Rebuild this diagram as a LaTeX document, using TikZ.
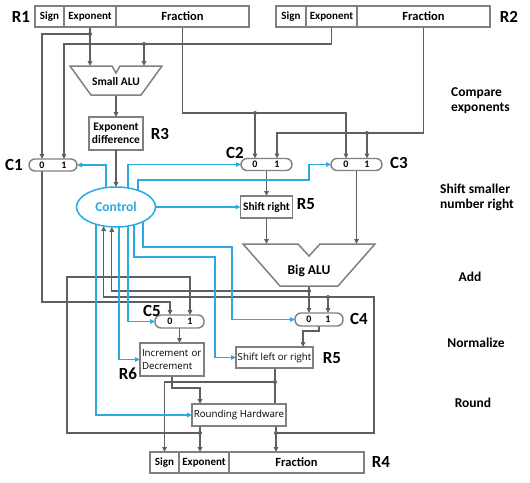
\documentclass[tikz,border=0pt]{standalone}
\usepackage{fontspec}
\setmainfont{Carlito}
\newfontfamily\thinfont{Open Sans}
\usetikzlibrary{arrows.meta,calc,backgrounds,shapes.geometric}
\definecolor{linec}{RGB}{95,95,95}
\definecolor{boxc}{RGB}{128,128,128}
\definecolor{ctlblue}{RGB}{41,171,226}
\begin{document}
\begin{tikzpicture}[x=1pt,y=-1pt,
  ln/.style={draw=linec,line width=1.3pt},
  arr/.style={ln,-{Triangle[length=5pt,width=4.5pt]}},
  bln/.style={draw=ctlblue,line width=1.3pt,-{Triangle[length=5pt,width=4.5pt]}},
  fld/.style={draw=boxc,line width=1.5pt,fill=white,minimum height=21pt,inner sep=0pt,outer sep=0pt,font=\bfseries\fontsize{11pt}{12pt}\selectfont},
  fldbig/.style={fld,font=\bfseries\fontsize{12.5pt}{14pt}\selectfont},
  boxn/.style={draw=boxc,line width=1.5pt,fill=white,inner sep=0pt,outer sep=0pt,font=\bfseries\fontsize{11.5pt}{13pt}\selectfont,align=center},
  thinbox/.style={boxn,font=\thinfont\fontsize{9.7pt}{12.5pt}\selectfont},
  pill/.style={draw=boxc,line width=1.4pt,fill=white,rounded corners=6pt,minimum height=12pt,inner sep=0pt,outer sep=0pt},
  dig/.style={font=\bfseries\fontsize{10pt}{11pt}\selectfont,inner sep=0pt},
  lbl/.style={font=\bfseries\fontsize{17pt}{18pt}\selectfont,inner sep=0pt},
  stage/.style={font=\bfseries\fontsize{13.5pt}{15.5pt}\selectfont,align=left,inner sep=0pt},
  dot/.style={fill=linec}]
\useasboundingbox (0,0) rectangle (530,482);

% ---------- registers ----------
\node[fld,minimum width=29pt] (r1s) at (49.5,16.5) {Sign};
\node[fld,minimum width=52pt] (r1e) at (90,16.5) {Exponent};
\node[fldbig,minimum width=133pt] (r1f) at (182.5,16.5) {Fraction};
\node[fld,minimum width=30pt] (r2s) at (291,16.5) {Sign};
\node[fld,minimum width=51pt] (r2e) at (331.5,16.5) {Exponent};
\node[fldbig,minimum width=133pt] (r2f) at (423.5,16.5) {Fraction};
\node[fld,minimum width=29pt] (r4s) at (164.5,462.5) {Sign};
\node[fld,minimum width=50pt] (r4e) at (204,462.5) {Exponent};
\node[fldbig,minimum width=135pt] (r4f) at (296.5,462.5) {Fraction};

% ---------- ALUs ----------
\draw[draw=boxc,line width=1.5pt,fill=white] (70,66) -- (112,66) -- (116,73) -- (120,66) -- (162,66) -- (141,95) -- (91,95) -- cycle;
\node[font=\bfseries\fontsize{11.5pt}{12pt}\selectfont,inner sep=0pt] (salu) at (116,82) {Small ALU};
\coordinate (salul) at (90,66);
\coordinate (salur) at (144,66);
\coordinate (saluo) at (116,95);
\draw[draw=boxc,line width=1.5pt,fill=white] (243,244) -- (298,244) -- (309,256) -- (320,244) -- (375,244) -- (338,286) -- (280,286) -- cycle;
\node[font=\bfseries\fontsize{13.5pt}{14pt}\selectfont,inner sep=0pt] (balu) at (309,271) {Big ALU};
\coordinate (balul) at (266.5,244);
\coordinate (balur) at (356.5,244);
\coordinate (baluo) at (309,286);

% ---------- boxes ----------
\node[boxn,minimum width=54pt,minimum height=33pt] (r3) at (116,133.5) {Exponent\\difference};
\node[boxn,minimum width=52pt,minimum height=22pt,font=\bfseries\fontsize{11.5pt}{12pt}\selectfont] (sr) at (266.5,207) {Shift right};
\node[thinbox,minimum width=64pt,minimum height=33pt,text width=60pt,align=left,inner sep=2pt] (inc) at (172,359.5) {Increment or\\Decrement};
\node[thinbox,minimum width=77pt,minimum height=21pt] (slr) at (274.5,357.5) {Shift left or right};
\node[thinbox,minimum width=94pt,minimum height=22pt] (rh) at (239,415) {Rounding Hardware};

% ---------- multiplexers ----------
\node[pill,minimum width=48pt] (c1) at (53,165) {};
\node[dig] (c1z) at (42,165) {0};
\node[dig] (c1o) at (64,165) {1};
\node[pill,minimum width=51pt] (c2) at (266.5,164.5) {};
\node[dig] (c2z) at (255,164.5) {0};
\node[dig] (c2o) at (277,164.5) {1};
\node[pill,minimum width=51pt] (c3) at (356.5,164.5) {};
\node[dig] (c3z) at (346,164.5) {0};
\node[dig] (c3o) at (367,164.5) {1};
\node[pill,minimum width=48pt,minimum height=13pt] (c4) at (319,319.5) {};
\node[dig] (c4z) at (309,319.5) {0};
\node[dig] (c4o) at (328,319.5) {1};
\node[pill,minimum width=49pt,minimum height=13pt] (c5) at (179.5,321.5) {};
\node[dig] (c5z) at (170,321.5) {0};
\node[dig] (c5o) at (190,321.5) {1};

% ---------- control ----------
\node[ellipse,draw=ctlblue,line width=1.5pt,fill=white,minimum width=79pt,minimum height=40pt,inner sep=0pt,outer sep=0pt,text=ctlblue,font=\bfseries\fontsize{13.5pt}{14pt}\selectfont] (ctl) at (116,207) {Control};

% ---------- labels ----------
\node[lbl] (lr1) at (21,17) {R1};
\node[lbl] (lr2) at (509,17) {R2};
\node[lbl] (lr3) at (160,134) {R3};
\node[lbl] (lr4) at (381,462) {R4};
\node[lbl] (lr5a) at (306,204) {R5};
\node[lbl] (lr5b) at (332,358) {R5};
\node[lbl] (lr6) at (128,374) {R6};
\node[lbl] (lc1) at (14,165) {C1};
\node[lbl] (lc2) at (235,153) {C2};
\node[lbl] (lc3) at (399,163) {C3};
\node[lbl] (lc4) at (359,319) {C4};
\node[lbl] (lc5) at (152,311) {C5};

\node[stage,anchor=west] (s1) at (451,100.5) {Compare\\exponents};
\node[stage,anchor=west] (s2) at (440,197.5) {Shift smaller\\number right};
\node[stage] (s3) at (470,277) {Add};
\node[stage] (s4) at (476,343) {Normalize};
\node[stage] (s5) at (473,403) {Round};

% ---------- junction coordinates ----------
\coordinate (d1) at (90,34);
\coordinate (d2) at (144,44);
\coordinate (d3) at (255,113);
\coordinate (d4) at (367,133);
\coordinate (d5) at (309,291);
\coordinate (d6) at (276,433);
\coordinate (d7) at (328,297);
\coordinate (d8) at (200,433);
\coordinate (d9) at (275,382);
\coordinate (k1) at (374,297);
\coordinate (k2) at (67,277);
\coordinate (k3) at (170,302);
\coordinate (k5) at (200,388);
\coordinate (k6) at (303,331);
\coordinate (k7) at (309,180);
\coordinate (k8) at (232,247);
\coordinate (k9) at (215,257);

\begin{pgfonlayer}{background}
\fill[white] (0,0) rectangle (530,482);
% grey data paths
\draw[ln] (r1e.south) -- (d1);
\draw[arr] (d1) -- (salul);
\draw[arr] (d1) -| (c1z |- c1.north);
\draw[arr] (r2e.south) |- (d2) -| (c1o |- c1.north);
\draw[arr] (d2) -- (salur);
\draw[arr] (r1f.south) |- (d3) -| (c3z |- c3.north);
\draw[arr] (d3) -- (c2z |- c2.north);
\draw[arr] (r2f.south) |- (d4) -| (c2o |- c2.north);
\draw[arr] (d4) -- (c3o |- c3.north);
\draw[arr] (saluo) -- (r3.north);
\draw[arr] (c2.south) -- (sr.north);
\draw[arr] (sr.south) -- (balul);
\draw[arr] (c3.south) -- (balur);
\draw[ln] (baluo) -- (d5);
\draw[arr] (d5) -- (c4z |- c4.north);
\draw[arr] (d5) -| (ctl.258.6);
\draw[arr] (c1z |- c1.south) |- (k3) -- (c5z |- c5.north);
\draw[ln] (rh.south -| d8) -- (d8);
\draw[arr] (d8) -- (r4e.north -| d8);
\draw[arr] (d8) -| (k2) -| (c5o |- c5.north);
\draw[ln] (rh.south -| d6) -- (d6);
\draw[arr] (d6) -- (r4f.north -| d6);
\draw[arr] (d6) -| (k1) -- (d7) -| (ctl.237.8);
\draw[arr] (d7) -- (c4o |- c4.north);
\draw[arr] (c5.south) -- (c5.south |- inc.north);
\draw[arr] (inc.south) |- (k5) -- (k5 |- rh.north);
\draw[ln] (slr.south -| d9) -- (d9) -- (d9 |- rh.north);
\draw[arr] (d9) -| (r4s.north);
\draw[arr] (c4.south) |- (k6) -- (k6 |- slr.north);
% blue control paths
\draw[bln] ($(ctl.center)+(-10,0)$) |- (c1.east);
\draw[bln] ($(ctl.center)+(12,0)$) |- (c2.west);
\draw[bln] ($(ctl.center)+(22,0)$) |- (k7) |- (c3.west);
\draw[bln] (ctl.east) -- (sr.west);
\draw[bln] ($(ctl.center)+(27,0)$) |- (k8) |- (c4.west);
\draw[bln] ($(ctl.center)+(18,0)$) |- (k9) |- (slr.west);
\draw[bln] ($(ctl.center)+(12,0)$) |- (c5.west);
\draw[bln] ($(ctl.center)+(3,0)$) |- (inc.west);
\draw[bln] ($(ctl.center)+(-20,0)$) |- (rh.west);
\end{pgfonlayer}

\draw[arr] (r3.south) -- (ctl.north);
\foreach \d in {d1,d2,d3,d4,d5,d6,d7,d8,d9} \fill[dot] (\d) circle (2pt);
\end{tikzpicture}
\end{document}
